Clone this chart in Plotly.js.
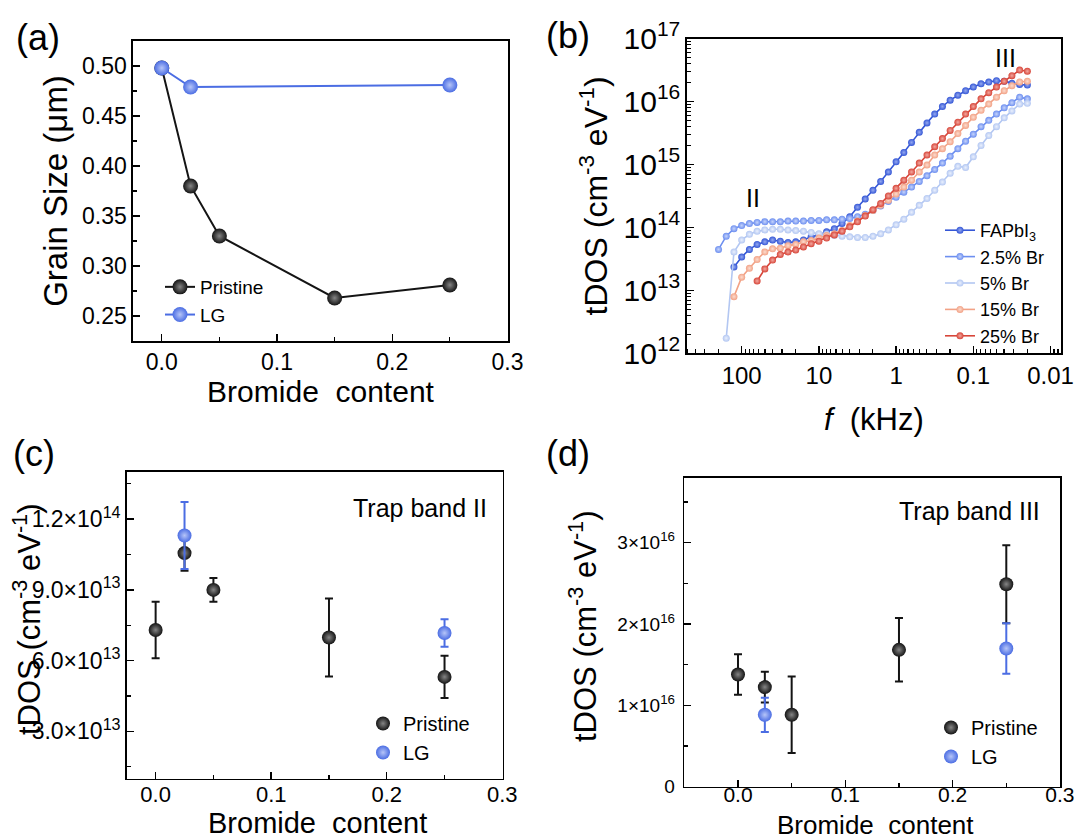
<!DOCTYPE html>
<html><head><meta charset="utf-8">
<script src="https://cdn.plot.ly/plotly-3.0.1.min.js"></script>
<style>html,body{margin:0;padding:0;background:#fff}</style>
</head><body>
<div id="chart" style="width:1075px;height:839px"></div>
<script>
// ---------- Panel (a): grain size ----------
const bromidePristine = [0, 0.025, 0.05, 0.15, 0.25];
const grainPristine = [0.498, 0.380, 0.330, 0.268, 0.281];
const bromideLG = [0, 0.025, 0.25];
const grainLG = [0.498, 0.479, 0.481];

// ---------- Panel (b): tDOS vs frequency (kHz) ----------
const freqKHz = [199.5, 158.5, 125.9, 100, 79.43, 63.10, 50.12, 39.81, 31.62, 25.12,
  19.95, 15.85, 12.59, 10, 7.943, 6.310, 5.012, 3.981, 3.162, 2.512,
  1.995, 1.585, 1.259, 1, 0.7943, 0.6310, 0.5012, 0.3981, 0.3162, 0.2512,
  0.1995, 0.1585, 0.1259, 0.1, 0.07943, 0.06310, 0.05012, 0.03981, 0.03162, 0.02512, 0.01995];
const seriesNames = ['FAPbI<sub>3</sub>', '2.5% Br', '5% Br', '15% Br', '25% Br'];
const tdosFAPbI3 = [2.34e13, 3.39e13, 4.47e13, 5.37e13, 5.89e13, 6.31e13, 6.03e13, 5.75e13, 5.89e13, 6.31e13,
  7.08e13, 7.59e13, 8.51e13, 9.55e13, 1.15e14, 1.48e14, 2.09e14, 2.82e14, 3.89e14, 5.37e14,
  7.59e14, 1.10e15, 1.55e15, 2.24e15, 3.24e15, 4.57e15, 6.31e15, 8.32e15, 1.05e16, 1.26e16,
  1.48e16, 1.70e16, 1.91e16, 2.04e16, 2.14e16, 2.09e16, 1.95e16, 1.86e16, 1.82e16];
const tdosBr2p5 = [4.47e13, 7.24e13, 9.55e13, 1.07e14, 1.15e14, 1.20e14, 1.23e14, 1.23e14, 1.23e14, 1.26e14,
  1.26e14, 1.26e14, 1.29e14, 1.29e14, 1.32e14, 1.32e14, 1.35e14, 1.38e14, 1.48e14, 1.62e14,
  1.86e14, 2.19e14, 2.57e14, 3.02e14, 3.63e14, 4.37e14, 5.37e14, 6.61e14, 8.32e14, 1.05e15,
  1.35e15, 1.78e15, 2.34e15, 3.02e15, 3.98e15, 5.01e15, 6.31e15, 7.94e15, 9.55e15, 1.17e16, 1.10e16];
const tdosBr5 = [1.74e12, 4.07e13, 6.31e13, 7.76e13, 8.71e13, 9.12e13, 9.33e13, 9.33e13, 9.12e13, 8.91e13,
  8.71e13, 8.32e13, 7.94e13, 7.76e13, 7.41e13, 7.24e13, 7.08e13, 6.92e13, 6.92e13, 7.24e13,
  7.94e13, 9.12e13, 1.10e14, 1.35e14, 1.74e14, 2.24e14, 2.88e14, 3.89e14, 5.25e14, 7.24e14,
  9.33e14, 8.91e14, 1.32e15, 2.00e15, 2.88e15, 3.98e15, 5.50e15, 7.08e15, 9.12e15, 9.33e15];
const tdosBr15 = [7.94e12, 1.62e13, 2.24e13, 3.09e13, 4.07e13, 4.57e13, 4.68e13, 5.13e13, 5.37e13, 5.89e13,
  6.17e13, 6.76e13, 7.41e13, 7.94e13, 8.91e13, 1.07e14, 1.26e14, 1.55e14, 1.86e14, 2.24e14,
  2.69e14, 3.39e14, 4.37e14, 5.62e14, 7.59e14, 9.77e14, 1.41e15, 1.78e15, 2.29e15, 3.09e15,
  4.17e15, 5.62e15, 7.24e15, 9.12e15, 1.17e16, 1.48e16, 1.78e16, 2.04e16, 2.09e16];
const tdosBr25 = [1.41e13, 2.19e13, 3.02e13, 3.72e13, 4.07e13, 4.37e13, 4.90e13, 5.50e13, 6.03e13, 6.76e13,
  7.59e13, 8.71e13, 1.02e14, 1.23e14, 1.51e14, 1.91e14, 2.40e14, 3.16e14, 4.17e14, 5.62e14,
  7.59e14, 1.05e15, 1.41e15, 1.91e15, 2.57e15, 3.47e15, 4.68e15, 6.31e15, 8.32e15, 1.10e16,
  1.38e16, 1.70e16, 2.09e16, 2.57e16, 3.16e16, 3.02e16];
const freqTicks = [100, 10, 1, 0.1, 0.01];
const freqTickText = ['100', '10', '1', '0.1', '0.01'];

// ---------- Panel (c): trap band II ----------
const tdosIIPristine = [7.30e13, 1.056e14, 9.00e13, 6.98e13, 5.31e13];
const errIIPristine = [1.20e13, 0.75e13, 0.50e13, 1.65e13, 0.90e13];
const tdosIILG = [1.131e14, 7.17e13];
const errIILG = [1.42e13, 0.58e13];
const cTickVals = [3e13, 6e13, 9e13, 1.2e14];
const cTickText = ['3.0×10<sup>13</sup>', '6.0×10<sup>13</sup>', '9.0×10<sup>13</sup>', '1.2×10<sup>14</sup>'];

// ---------- Panel (d): trap band III ----------
const tdosIIIPristine = [1.38e16, 1.225e16, 0.884e16, 1.683e16, 2.49e16];
const errIIIPristine = [0.25e16, 0.19e16, 0.47e16, 0.39e16, 0.48e16];
const tdosIIILG = [0.884e16, 1.70e16];
const errIIILG = [0.21e16, 0.31e16];
const dTickVals = [0, 1e16, 2e16, 3e16];
const dTickText = ['0', '1×10<sup>16</sup>', '2×10<sup>16</sup>', '3×10<sup>16</sup>'];

// ---------- styles ----------
const FONT = 'Arial, "Liberation Sans", sans-serif';
const BLACK = '#141414', BLACK_HI = '#858585';
const BLUE = '#4b6de3', BLUE_HI = '#b6c5f8';
const bColors = ['#3557d6', '#6d8ff0', '#b3c7f2', '#f2a286', '#d7463a'];
const bHi = ['#95a9f0', '#c6d4fb', '#eaf0fd', '#fcdccf', '#f2a8a0'];
const bSeries = [tdosFAPbI3, tdosBr2p5, tdosBr5, tdosBr15, tdosBr25];

function ball(color, hi, size) {
  return {color: color, size: size, line: {width: 0}, gradient: {type: 'radial', color: hi}};
}

const traces = [];
// (a)
traces.push({x: bromidePristine, y: grainPristine, xaxis: 'x', yaxis: 'y', mode: 'lines+markers',
  name: 'Pristine', legend: 'legend', line: {color: BLACK, width: 2}, marker: ball(BLACK, BLACK_HI, 15)});
traces.push({x: bromideLG, y: grainLG, xaxis: 'x', yaxis: 'y', mode: 'lines+markers',
  name: 'LG', legend: 'legend', line: {color: BLUE, width: 2}, marker: ball(BLUE, BLUE_HI, 15)});
// (b)
bSeries.forEach(function (vals, i) {
  const start = freqKHz.length - vals.length;
  traces.push({x: freqKHz.slice(start), y: vals, xaxis: 'x2', yaxis: 'y2', mode: 'lines+markers',
    name: seriesNames[i], legend: 'legend2', line: {color: bColors[i], width: 1.6},
    marker: ball(bColors[i], bHi[i], 7)});
});
// (c)
traces.push({x: bromidePristine, y: tdosIIPristine, xaxis: 'x3', yaxis: 'y3', mode: 'markers',
  name: 'Pristine', legend: 'legend3', marker: ball(BLACK, BLACK_HI, 14),
  error_y: {type: 'data', array: errIIPristine, color: BLACK, thickness: 2, width: 4}});
traces.push({x: [bromideLG[1], bromideLG[2]], y: tdosIILG, xaxis: 'x3', yaxis: 'y3', mode: 'markers',
  name: 'LG', legend: 'legend3', marker: ball(BLUE, BLUE_HI, 14),
  error_y: {type: 'data', array: errIILG, color: BLUE, thickness: 2, width: 4}});
// (d)
traces.push({x: bromidePristine, y: tdosIIIPristine, xaxis: 'x4', yaxis: 'y4', mode: 'markers',
  name: 'Pristine', legend: 'legend4', marker: ball(BLACK, BLACK_HI, 14),
  error_y: {type: 'data', array: errIIIPristine, color: BLACK, thickness: 2, width: 4}});
traces.push({x: [bromideLG[1], bromideLG[2]], y: tdosIIILG, xaxis: 'x4', yaxis: 'y4', mode: 'markers',
  name: 'LG', legend: 'legend4', marker: ball(BLUE, BLUE_HI, 14),
  error_y: {type: 'data', array: errIIILG, color: BLUE, thickness: 2, width: 4}});

function ax(extra) {
  return Object.assign({showline: true, mirror: true, linecolor: '#000', linewidth: 1.6,
    ticks: 'inside', ticklen: 7, tickwidth: 1.4, tickcolor: '#000', showgrid: false, zeroline: false,
    tickfont: {family: FONT, size: 22, color: '#000'}}, extra);
}
function ttl(text, size, standoff) {
  return {text: text, font: {family: FONT, size: size, color: '#000'}, standoff: standoff};
}
function minorLin(d) {
  return {ticks: 'inside', ticklen: 4, tickwidth: 1.2, tickcolor: '#000', tickmode: 'linear', tick0: 0, dtick: d, showgrid: false};
}
const minorLog = {ticks: 'inside', ticklen: 4, tickwidth: 1.2, tickcolor: '#000', dtick: 'D1', showgrid: false};

function legendAt(x, y, size) {
  return {x: x / 1075, y: 1 - y / 839, xanchor: 'left', yanchor: 'top', bgcolor: 'rgba(0,0,0,0)', borderwidth: 0,
    font: {family: FONT, size: size, color: '#000'}, tracegroupgap: 0, itemclick: false};
}
function label(text, px, py, size, extra) {
  return Object.assign({text: text, xref: 'paper', yref: 'paper', x: px / 1075, y: 1 - py / 839,
    xanchor: 'center', yanchor: 'middle', showarrow: false,
    font: {family: FONT, size: size, color: '#000'}}, extra || {});
}

const layout = {
  width: 1075, height: 839, margin: {l: 0, r: 0, t: 0, b: 0},
  paper_bgcolor: '#fff', plot_bgcolor: '#fff', font: {family: FONT, color: '#000'},
  showlegend: true,
  xaxis: ax({domain: [0.1237, 0.4726], anchor: 'y', range: [-0.025, 0.3005], dtick: 0.1, tickformat: '.1f',
    tickfont: {family: FONT, size: 23, color: '#000'},
    minor: minorLin(0.05), title: ttl('Bromide\u00a0 content', 30, 4)}),
  yaxis: ax({domain: [0.5936, 0.9511], anchor: 'x', range: [0.225, 0.525], dtick: 0.05, tickformat: '.2f',
    tickfont: {family: FONT, size: 23, color: '#000'},
    minor: minorLin(0.025), title: ttl('Grain Size (μm)', 33, 4)}),
  xaxis2: ax({domain: [0.6388, 0.9870], anchor: 'y2', type: 'log', range: [2.712, -2.136],
    tickvals: freqTicks, ticktext: freqTickText, minor: minorLog,
    tickfont: {family: FONT, size: 24, color: '#000'},
    title: ttl('<i>f</i>\u00a0 (kHz)', 31, 20)}),
  yaxis2: ax({domain: [0.5789, 0.9541], anchor: 'x2', type: 'log', range: [12, 17], dtick: 1,
    exponentformat: 'power', minor: minorLog,
    tickfont: {family: FONT, size: 24, color: '#000'},
    title: ttl('tDOS (cm<sup>-3</sup> eV<sup>-1</sup>)', 32, 6)}),
  xaxis3: ax({domain: [0.1179, 0.4678], anchor: 'y3', range: [-0.025, 0.3005], dtick: 0.1, tickformat: '.1f',
    ticklabelstandoff: -5, minor: minorLin(0.05)}),
  yaxis3: ax({domain: [0.0721, 0.4374], anchor: 'x3', range: [1e13, 1.4e14],
    tickvals: cTickVals, ticktext: cTickText, tickfont: {family: FONT, size: 23, color: '#000'},
    minor: minorLin(1.5e13)}),
  xaxis4: ax({domain: [0.6366, 0.9865], anchor: 'y4', range: [-0.05, 0.3005], dtick: 0.1, tickformat: '.1f',
    tickfont: {family: FONT, size: 21, color: '#000'}, ticklabelstandoff: -12, minor: minorLin(0.05)}),
  yaxis4: ax({domain: [0.0623, 0.4307], anchor: 'x4', range: [0, 3.8e16],
    tickvals: dTickVals, ticktext: dTickText, tickfont: {family: FONT, size: 19, color: '#000'},
    ticklabelstandoff: 4, minor: minorLin(0.5e16)}),
  legend: legendAt(160, 268, 19),
  legend2: legendAt(940, 212, 18),
  legend3: legendAt(363, 704, 20),
  legend4: legendAt(931, 708, 20),
  annotations: [
    label('(a)', 38, 38, 36),
    label('(b)', 568, 36, 36),
    label('(c)', 34, 453, 36),
    label('(d)', 568, 453, 36),
    label('II', 753, 198, 25),
    label('III', 1005, 58, 25),
    label('Trap band II', 420, 508, 25),
    label('Trap band III', 969, 511, 25),
    label('tDOS (cm<sup>-3</sup> eV<sup>-1</sup>)', 27, 619, 31, {textangle: -90}),
    label('tDOS (cm<sup>-3</sup> eV<sup>-1</sup>)', 583, 626, 31, {textangle: -90}),
    label('Bromide\u00a0 content', 317, 823, 29),
    label('Bromide\u00a0 content', 875, 825, 26)
  ]
};

Plotly.newPlot('chart', traces, layout, {displayModeBar: false, staticPlot: true});
</script>
</body></html>
